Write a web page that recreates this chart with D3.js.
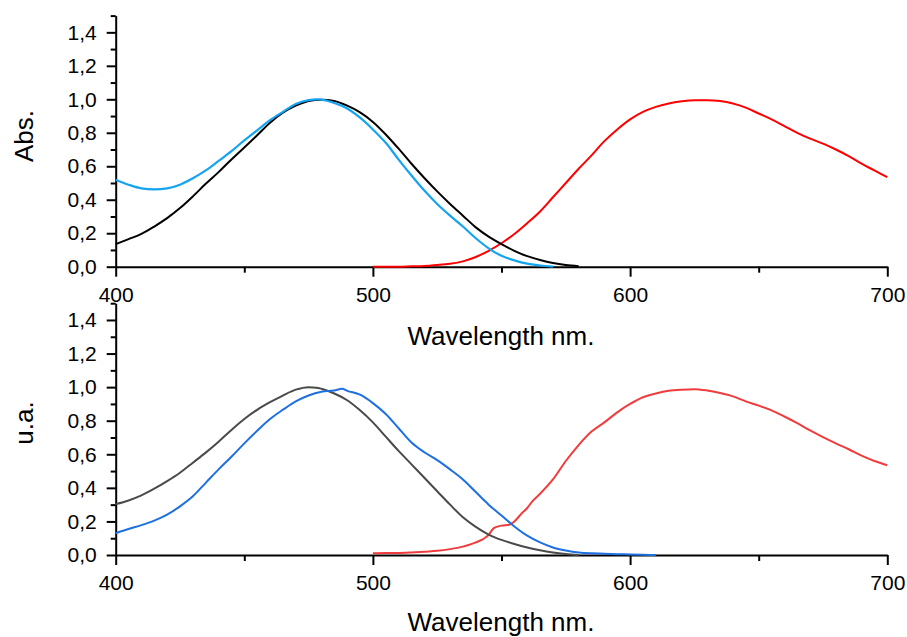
<!DOCTYPE html>
<html>
<head>
<meta charset="utf-8">
<script src="https://cdn.jsdelivr.net/npm/d3@7"></script>
<style>
  html, body { margin: 0; padding: 0; background: #fff; }
  svg { display: block; font-family: "Liberation Sans", Arial, sans-serif; }
</style>
</head>
<body>
<svg id="chart" width="907" height="637"></svg>
<script>
// ---------- DATA ----------
const xTicks = [400, 500, 600, 700];
const xMinorTicks = [450, 550, 650];
const yTicks = [0, 0.2, 0.4, 0.6, 0.8, 1.0, 1.2, 1.4];
const yMinorTicks = [0.1, 0.3, 0.5, 0.7, 0.9, 1.1, 1.3, 1.5];

// Top panel (Abs.)
const absBlueWl = [400,405,410,415,420,425,430,435,440,445,450,455,460,465,470,475,478,480,485,490,495,500,505,510,515,520,525,530,535,540,545,550,555,560,565,570];
const absBlueVal = [0.52,0.49,0.468,0.462,0.468,0.49,0.528,0.575,0.632,0.69,0.755,0.815,0.875,0.925,0.972,0.995,1.0,0.998,0.978,0.945,0.89,0.82,0.74,0.64,0.545,0.455,0.375,0.305,0.24,0.17,0.11,0.065,0.038,0.018,0.007,0.0];

const absBlackWl = [400,405,410,415,420,425,430,435,440,445,450,455,460,465,470,475,480,485,490,495,500,505,510,515,520,525,530,535,540,545,550,555,560,565,570,575,580];
const absBlackVal = [0.135,0.165,0.196,0.24,0.29,0.35,0.42,0.495,0.565,0.64,0.712,0.785,0.86,0.92,0.962,0.99,0.998,0.99,0.962,0.922,0.865,0.79,0.705,0.615,0.53,0.45,0.375,0.305,0.235,0.18,0.135,0.095,0.063,0.04,0.022,0.01,0.003];

const absRedWl = [500,510,515,520,525,530,535,540,545,550,555,560,565,570,575,580,585,590,595,600,605,610,615,620,625,630,635,640,645,650,655,660,665,670,675,680,685,690,695,700];
const absRedVal = [0.0,0.0,0.002,0.004,0.01,0.018,0.032,0.058,0.095,0.14,0.195,0.26,0.33,0.415,0.5,0.585,0.665,0.75,0.82,0.88,0.925,0.955,0.975,0.988,0.995,0.995,0.99,0.975,0.95,0.915,0.88,0.84,0.8,0.765,0.735,0.7,0.66,0.615,0.575,0.535];

// Bottom panel (u.a.)
const uaGrayWl = [400,405,410,415,420,425,430,435,440,445,450,455,460,465,470,475,478,480,485,490,495,500,505,510,515,520,525,530,535,540,545,550,555,560,565,570,575,580];
const uaGrayVal = [0.303,0.325,0.355,0.395,0.44,0.49,0.55,0.61,0.675,0.745,0.81,0.865,0.91,0.95,0.985,1.0,0.997,0.99,0.962,0.922,0.862,0.79,0.705,0.62,0.54,0.46,0.38,0.3,0.225,0.168,0.122,0.09,0.066,0.045,0.028,0.015,0.006,0.0];

const uaBlueWl = [400,405,410,415,420,425,430,435,440,445,450,455,460,465,470,475,480,485,488,490,495,500,505,510,515,520,525,530,535,540,545,550,555,560,565,570,575,580,585,590,595,600,605,610];
const uaBlueVal = [0.13,0.155,0.178,0.205,0.24,0.29,0.35,0.43,0.51,0.585,0.665,0.74,0.81,0.865,0.915,0.95,0.972,0.98,0.99,0.978,0.955,0.905,0.84,0.755,0.67,0.612,0.565,0.51,0.45,0.375,0.3,0.235,0.17,0.115,0.075,0.045,0.027,0.015,0.01,0.008,0.005,0.003,0.001,0.0];

const uaRedWl = [500,505,510,515,520,525,530,535,540,545,547,550,553,555,558,560,562,565,570,575,580,585,590,595,600,605,610,615,620,625,630,635,640,645,650,655,660,665,670,675,680,685,690,695,700];
const uaRedVal = [0.01,0.012,0.012,0.015,0.02,0.025,0.035,0.05,0.075,0.12,0.16,0.175,0.18,0.2,0.25,0.28,0.32,0.365,0.45,0.56,0.655,0.735,0.79,0.85,0.9,0.94,0.962,0.978,0.985,0.988,0.98,0.965,0.945,0.915,0.89,0.862,0.825,0.785,0.742,0.702,0.665,0.63,0.592,0.56,0.535];

// ---------- DRAW ----------
const svg = d3.select("#chart");
const fmt = v => d3.format(".1f")(v).replace(".", ",");

const x = d3.scaleLinear().domain([400, 700]).range([115.7, 887.3]);

const panels = [
  { yRange: [266.7, 15.6], title: "Abs.", titleY: 136, xTitleY: 345,
    series: [
      { wl: absRedWl, v: absRedVal, color: "#ff0000", w: 2 },
      { wl: absBlackWl, v: absBlackVal, color: "#000000", w: 2 },
      { wl: absBlueWl, v: absBlueVal, color: "#14a4f0", w: 2.2 }
    ] },
  { yRange: [555, 303.2], title: "u.a.", titleY: 423, xTitleY: 631,
    series: [
      { wl: uaRedWl, v: uaRedVal, color: "#f03c3c", w: 2 },
      { wl: uaGrayWl, v: uaGrayVal, color: "#4a4a4a", w: 2 },
      { wl: uaBlueWl, v: uaBlueVal, color: "#1e6fe0", w: 2 }
    ] }
];

panels.forEach(p => {
  const y = d3.scaleLinear().domain([0, 1.5]).range(p.yRange);
  const y0 = p.yRange[0];
  const g = svg.append("g");

  // minor x ticks
  g.append("g").attr("transform", `translate(0,${y0})`)
    .call(d3.axisBottom(x).tickValues(xMinorTicks).tickSize(6).tickSizeOuter(0).tickFormat(""))
    .call(a => a.select(".domain").remove())
    .call(a => a.selectAll("line").attr("stroke", "#000").attr("stroke-width", 2));
  // major x axis
  g.append("g").attr("transform", `translate(0,${y0})`)
    .call(d3.axisBottom(x).tickValues(xTicks).tickSize(10).tickPadding(10).tickSizeOuter(0).tickFormat(d3.format("d")))
    .call(a => a.select(".domain").attr("stroke", "#000").attr("stroke-width", 2))
    .call(a => a.selectAll("line").attr("stroke", "#000").attr("stroke-width", 2))
    .call(a => a.selectAll("text").attr("font-size", 21).attr("fill", "#000").attr("font-family", "Liberation Sans, Arial, sans-serif"));

  // minor y ticks
  g.append("g").attr("transform", `translate(${x(400)},0)`)
    .call(d3.axisLeft(y).tickValues(yMinorTicks).tickSize(5).tickSizeOuter(0).tickFormat(""))
    .call(a => a.select(".domain").remove())
    .call(a => a.selectAll("line").attr("stroke", "#000").attr("stroke-width", 2));
  // major y axis
  g.append("g").attr("transform", `translate(${x(400)},0)`)
    .call(d3.axisLeft(y).tickValues(yTicks).tickSize(9).tickPadding(10).tickSizeOuter(0).tickFormat(fmt))
    .call(a => a.select(".domain").attr("stroke", "#000").attr("stroke-width", 2))
    .call(a => a.selectAll("line").attr("stroke", "#000").attr("stroke-width", 2))
    .call(a => a.selectAll("text").attr("font-size", 21).attr("fill", "#000").attr("font-family", "Liberation Sans, Arial, sans-serif"));

  // series
  const line = d3.line().x(d => x(d[0])).y(d => y(d[1])).curve(d3.curveMonotoneX);
  p.series.forEach(s => {
    const pts = s.wl.map((w, i) => [w, s.v[i]]);
    g.append("path").datum(pts)
      .attr("d", line)
      .attr("fill", "none")
      .attr("stroke", s.color)
      .attr("stroke-width", s.w)
      .attr("stroke-linejoin", "round");
  });

  // titles
  g.append("text")
    .attr("x", 501).attr("y", p.xTitleY)
    .attr("text-anchor", "middle")
    .attr("font-size", 26).attr("fill", "#000")
    .text("Wavelength nm.");
  g.append("text")
    .attr("transform", `translate(33,${p.titleY}) rotate(-90)`)
    .attr("text-anchor", "middle")
    .attr("font-size", 26).attr("fill", "#000")
    .text(p.title);
});
</script>
</body>
</html>
